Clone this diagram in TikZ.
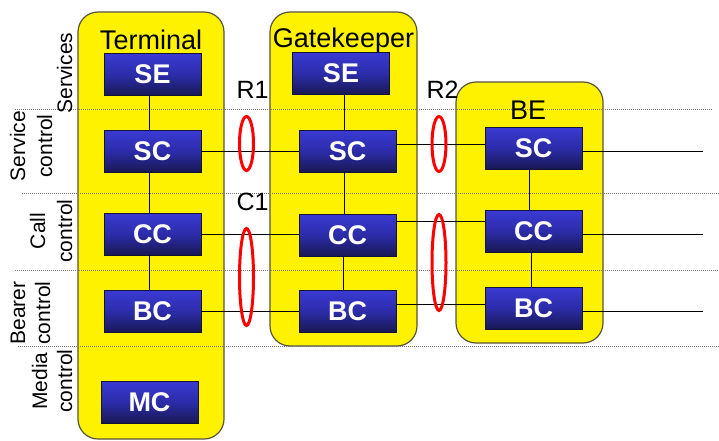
\documentclass[tikz,border=0pt]{standalone}
\usepackage{fontspec}
\setmainfont{Liberation Sans}
\usetikzlibrary{shapes.geometric}
\definecolor{boxtop}{RGB}{58,58,212}
\definecolor{boxmid}{RGB}{44,44,170}
\definecolor{boxbot}{RGB}{24,24,84}
\definecolor{boxedge}{RGB}{20,20,50}
\definecolor{contedge}{RGB}{85,85,60}
\definecolor{ringred}{RGB}{255,0,0}
\definecolor{dotgray}{RGB}{120,120,120}
\begin{document}
\begin{tikzpicture}[x=1pt,y=-1pt,
  container/.style={draw=contedge, line width=1.2pt, fill=yellow, rounded corners=20pt, inner sep=0pt},
  blk/.style={rectangle, draw=boxedge, line width=0.8pt, top color=boxtop, bottom color=boxbot, middle color=boxmid,
    minimum width=97pt, minimum height=42pt, inner sep=0pt, text=white, font=\fontsize{27}{30}\selectfont\bfseries},
  conn/.style={draw=black, line width=0.9pt},
  layer/.style={draw=dotgray, line width=0.8pt, dash pattern=on 1pt off 1pt},
  ring/.style={ellipse, draw=ringred, line width=3pt, inner sep=0pt, minimum width=14pt},
  title/.style={font=\fontsize{27}{30}\selectfont, anchor=base, inner sep=0pt},
  reflab/.style={font=\fontsize{25}{30}\selectfont, anchor=base, inner sep=0pt},
  rowlab/.style={font=\fontsize{21}{25}\selectfont, rotate=90, anchor=base, inner sep=0pt}
]
\useasboundingbox (0,0) rectangle (719,441);

% containers
\node[container, minimum width=146pt, minimum height=427pt] (term) at (151,225.5) {};
\node[container, minimum width=147pt, minimum height=334pt] (gk) at (343.5,179) {};
\node[container, minimum width=147pt, minimum height=261pt] (be) at (529.5,212.5) {};

% layer separators
\coordinate (d1a) at (15,109);  \coordinate (d1b) at (712,109);
\coordinate (d2a) at (22,193);  \coordinate (d2b) at (719,193);
\coordinate (d3a) at (15,270);  \coordinate (d3b) at (719,270);
\coordinate (d4a) at (18,346);  \coordinate (d4b) at (719,346);
\draw[layer] (d1a) -- (d1b);
\draw[layer] (d2a) -- (d2b);
\draw[layer] (d3a) -- (d3b);
\draw[layer] (d4a) -- (d4b);

% titles
\node[title] (tTitle) at (151,50) {Terminal};
\node[title] (gTitle) at (343.5,48) {Gatekeeper};
\node[title] (bTitle) at (528,120) {BE};
\node[reflab] (lR1) at (252.5,99) {R1};
\node[reflab] (lR2) at (442.5,99) {R2};
\node[reflab] (lC1) at (252.5,210) {C1};

% row labels
\node[rowlab] (rs) at (72,73) {Services};
\node[rowlab] (rsc1) at (25,146) {Service};
\node[rowlab] (rsc2) at (52,146) {control};
\node[rowlab] (rcc1) at (45,231) {Call};
\node[rowlab] (rcc2) at (72,231) {control};
\node[rowlab] (rbc1) at (25,313) {Bearer};
\node[rowlab] (rbc2) at (50,313) {control};
\node[rowlab] (rmc1) at (47,381) {Media};
\node[rowlab] (rmc2) at (72,381) {control};

% blocks
\node[blk] (tSE) at (152.5,74.5) {SE};
\node[blk] (tSC) at (152.5,151) {SC};
\node[blk] (tCC) at (152.5,234) {CC};
\node[blk] (tBC) at (152.5,311.5) {BC};
\node[blk] (tMC) at (149.5,402) {MC};

\node[blk] (gSE) at (341,73.5) {SE};
\node[blk] (gSC) at (347.5,151) {SC};
\node[blk] (gCC) at (347.5,235) {CC};
\node[blk] (gBC) at (347.5,311) {BC};

\node[blk] (bSC) at (533.5,148) {SC};
\node[blk] (bCC) at (533.5,231) {CC};
\node[blk] (bBC) at (533.5,308) {BC};

% vertical connectors
\draw[conn] ([xshift=-3pt]tSE.south) -- ([xshift=-3pt]tSC.north);
\draw[conn] ([xshift=-3pt]tSC.south) -- ([xshift=-3pt]tCC.north);
\draw[conn] ([xshift=-3pt]tCC.south) -- ([xshift=-3pt]tBC.north);
\draw[conn] ([xshift=-3pt]tBC.south) -- (tBC.south -| tMC.north);
\draw[conn] (gSE.south -| gCC.north) ++(-3.5,0) coordinate (gv1) -- (gv1 |- gSC.north);
\draw[conn] ([xshift=-3.5pt]gSC.south) -- ([xshift=-3.5pt]gCC.north);
\draw[conn] ([xshift=-4.5pt]gCC.south) -- ([xshift=-4.5pt]gBC.north);
\draw[conn] ([xshift=-4.5pt]bSC.south) -- ([xshift=-4.5pt]bCC.north);
\draw[conn] ([xshift=-2.5pt]bCC.south) -- ([xshift=-2.5pt]bBC.north);

% terminal - gatekeeper
\draw[conn] (tSC.east) -- (tSC.east -| gSC.west);
\draw[conn] (tCC.east) -- (tCC.east -| gCC.west);
\draw[conn] (tBC.east) -- (tBC.east -| gBC.west);

% gatekeeper - BE
\coordinate (k1) at ([yshift=4pt]bSC.west);
\coordinate (k2) at ([yshift=10pt]bCC.west);
\coordinate (k3) at ([yshift=4pt]bBC.west);
\draw[conn] (k1 -| gSC.east) -- (k1);
\draw[conn] (k2 -| gCC.east) -- (k2);
\draw[conn] (k3 -| gBC.east) -- (k3);

% BE outward
\coordinate (o1) at (703,151);
\coordinate (o2) at (703,234);
\coordinate (o3) at (703,311);
\draw[conn] (o1 -| bSC.east) -- (o1);
\draw[conn] (o2 -| bCC.east) -- (o2);
\draw[conn] (o3 -| bBC.east) -- (o3);

% reference point rings
\node[ring, minimum height=54pt] (r1a) at (246.5,143.5) {};
\node[ring, minimum height=97pt] (r1b) at (246.5,277) {};
\node[ring, minimum height=55pt] (r2a) at (439,144) {};
\node[ring, minimum height=96pt] (r2b) at (439,262.5) {};
\end{tikzpicture}
\end{document}
